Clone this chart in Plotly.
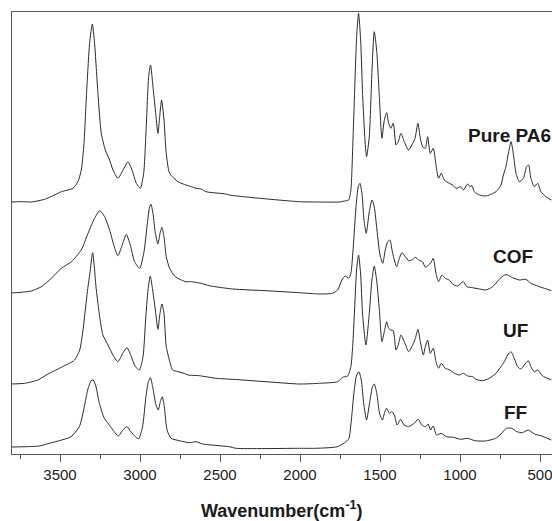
import plotly.graph_objects as go

# ---------------- data ----------------
# wavenumber (cm-1) and absorbance (arbitrary units, above each spectrum's own baseline)
pa6_wn = [3804, 3742, 3679, 3596, 3534, 3492, 3419, 3388, 3367, 3350, 3334, 3315, 3298, 3284, 3263, 3242,
          3217, 3190, 3169, 3138, 3106, 3075, 3050, 3023, 2998, 2977, 2961, 2946, 2934, 2919, 2904, 2888,
          2877, 2865, 2850, 2836, 2815, 2763, 2713, 2679, 2650, 2617, 2588, 2463, 2442, 2317, 2004, 1879,
          1754, 1723, 1696, 1682, 1671, 1659, 1646, 1634, 1621, 1609, 1594, 1584, 1567, 1550, 1536, 1521,
          1504, 1488, 1473, 1458, 1446, 1432, 1417, 1400, 1386, 1369, 1348, 1321, 1296, 1281, 1263, 1248,
          1234, 1217, 1202, 1186, 1167, 1150, 1134, 1117, 1098, 1067, 1046, 1025, 994, 979, 952, 938,
          925, 911, 879, 838, 817, 775, 744, 729, 713, 696, 681, 667, 650, 629, 604, 584,
          571, 557, 536, 515, 494, 463, 429]
pa6_abs = [0, 0.3, 0, 2.7, 7, 10.3, 13.7, 20.3, 32, 58.7, 108.7, 158.7, 178, 158.7, 108.7, 68.7,
           52, 42, 32, 23.7, 32, 40.3, 32, 18.7, 13.7, 28.7, 75.3, 125.3, 137, 115.3, 92, 68.7,
           85.3, 102, 82, 48.7, 28.7, 20.3, 17, 15.3, 13.7, 13, 10.3, 8, 7, 4.7, 0.3, 0,
           0, 1, 2, 12, 52, 108.7, 165.3, 188.7, 162, 108.7, 62, 45.3, 65.3, 132, 170.3, 152,
           105.3, 63.7, 82, 89.3, 78.7, 73.7, 78.7, 57, 60.3, 68.7, 60.3, 52, 58.7, 63.7, 78.7, 63.7,
           55.3, 53.7, 65.3, 48.7, 53.7, 37, 23.7, 28.7, 22, 18.7, 17, 13.7, 15.3, 12, 18, 15.3,
           16.3, 10.3, 7, 6, 7, 10.3, 17, 27, 35.3, 50.3, 60.3, 48.7, 28.7, 20.3, 23.7, 35.3,
           37, 23.7, 15.3, 18.7, 10.3, 5.3, 2]

cof_wn = [3804, 3742, 3679, 3617, 3554, 3492, 3429, 3367, 3325, 3284, 3252, 3221, 3190, 3158, 3138, 3111,
          3086, 3061, 3034, 3002, 2975, 2954, 2942, 2932, 2919, 2904, 2888, 2875, 2863, 2850, 2836, 2815,
          2784, 2742, 2713, 2679, 2640, 2617, 2567, 2421, 2213, 2004, 1879, 1796, 1765, 1738, 1717, 1696,
          1682, 1667, 1650, 1636, 1625, 1613, 1600, 1586, 1567, 1550, 1536, 1519, 1500, 1483, 1467, 1452,
          1438, 1421, 1396, 1379, 1363, 1342, 1321, 1300, 1279, 1259, 1234, 1217, 1196, 1182, 1167, 1150,
          1134, 1113, 1092, 1067, 1046, 1015, 979, 958, 921, 879, 838, 796, 754, 723, 702, 671,
          629, 588, 557, 515, 473, 429]
cof_abs = [0, 0.7, 2, 6.3, 14.7, 24.7, 31.3, 43, 59.7, 74.7, 82.3, 76.3, 63, 44.7, 37.3, 48,
           58.7, 48, 31.3, 24.7, 41.3, 69.7, 84.7, 89, 79.7, 59.7, 49, 59.7, 65.7, 56.3, 36.3, 24.7,
           17, 13, 11.3, 11.3, 10.3, 9.7, 7.3, 4, 2.3, 0.3, -1, -0.3, 3, 13, 17, 14.7,
           19.7, 46.3, 86.3, 106.3, 109.7, 99.7, 73, 59.7, 81.3, 93, 86.3, 63, 38, 29.7, 43, 51.3,
           53, 39.7, 26.3, 34.7, 40.3, 36.3, 32.3, 33, 35.7, 33, 31.3, 25.7, 28, 30.3, 34.7, 19.7,
           11.3, 18, 14.7, 13, 9, 7, 11.3, 6.3, 5.3, 4, 3, 6.3, 13.7, 18, 18, 15.3,
           13, 13.7, 9.7, 7, 4.7, 2.3]

uf_wn = [3804, 3721, 3638, 3575, 3492, 3409, 3377, 3356, 3342, 3325, 3313, 3296, 3273, 3252, 3232, 3200,
         3169, 3138, 3106, 3081, 3054, 3029, 3004, 2981, 2965, 2950, 2936, 2921, 2904, 2888, 2875, 2863,
         2850, 2836, 2808, 2796, 2763, 2713, 2700, 2629, 2525, 2421, 2213, 2004, 1879, 1765, 1733, 1702,
         1682, 1671, 1659, 1646, 1634, 1621, 1609, 1588, 1567, 1550, 1536, 1521, 1504, 1488, 1473, 1458,
         1446, 1432, 1417, 1400, 1386, 1369, 1348, 1321, 1296, 1279, 1263, 1248, 1229, 1217, 1202, 1186,
         1167, 1150, 1134, 1117, 1092, 1063, 1036, 1004, 979, 952, 921, 900, 859, 817, 775, 744,
         723, 702, 681, 661, 640, 619, 598, 573, 557, 536, 515, 484, 452, 429]
uf_abs = [0, 0.7, 4, 10, 16.7, 24, 34, 54, 74, 97.3, 110.7, 131.3, 94, 67.3, 49, 39,
          29, 22.3, 31.3, 36.3, 27.3, 17.3, 14, 27.3, 64, 94, 108, 94, 74, 54.7, 70.7, 80,
          70.7, 37.3, 19, 14, 12.3, 10, 9, 8.3, 5.7, 4.7, 2.3, 0, 0.7, 2.3, 6.7, 8,
          17.3, 37.3, 74, 115, 129, 110, 70, 39, 70.7, 105, 118, 104, 74, 42.3, 52.3, 62.3,
          55.7, 54, 53.3, 34, 39, 49, 42.3, 32.3, 39, 45.7, 54.7, 42.3, 29, 37.3, 44, 30.7,
          35.7, 22.3, 15.7, 20.7, 15.7, 14, 10.7, 9, 10.7, 8, 7.3, 4.7, 3.3, 5.7, 10.7, 17.3,
          22.3, 29, 32.3, 25.7, 17.3, 15, 19, 23.3, 17.3, 12.3, 14, 8, 5.7, 4]

ff_wn = [3804, 3713, 3629, 3567, 3504, 3431, 3379, 3348, 3327, 3306, 3292, 3275, 3254, 3223, 3192, 3161,
         3136, 3104, 3082, 3057, 3029, 3009, 2984, 2963, 2948, 2935, 2921, 2900, 2886, 2873, 2861, 2848,
         2831, 2806, 2754, 2692, 2650, 2609, 2442, 2400, 2004, 1899, 1767, 1712, 1694, 1679, 1661, 1646,
         1632, 1617, 1602, 1584, 1564, 1547, 1536, 1520, 1503, 1485, 1470, 1459, 1441, 1426, 1410, 1393,
         1371, 1349, 1322, 1287, 1261, 1239, 1217, 1199, 1184, 1168, 1146, 1118, 1085, 1041, 997, 952,
         908, 842, 777, 744, 710, 677, 644, 611, 574, 534, 490, 429]
ff_abs = [0, 0.3, 1, 3.7, 6.3, 10.3, 20.3, 40.3, 57, 66.3, 67, 60.3, 43.7, 28.7, 22, 15.3,
          11, 17.7, 20.3, 15.3, 10.3, 8, 20.3, 50.3, 65.3, 69.3, 60.3, 42, 37, 45.3, 50.3, 40.3,
          17, 8.7, 6.3, 4.3, 5.3, 3, 0.3, -1.3, -1.3, -1.3, 0.3, 5.3, 8.7, 27, 57, 72,
          75.3, 67, 43.7, 27, 45.3, 60.3, 63, 53.7, 33.7, 27, 35.3, 38.7, 33.7, 35.3, 32, 22,
          27.7, 22, 20.3, 23.7, 27.7, 22, 20.3, 23, 17, 21, 12, 13.7, 10.3, 9.7, 7.7, 8.7,
          6.3, 6, 8.7, 13, 18.7, 18.7, 15.3, 14.3, 17, 13, 11, 7]

names = ["Pure PA6", "COF", "UF", "FF"]
offsets = [252, 161, 70, 7]          # vertical stacking offset of each spectrum (a.u.)
label_wn = [688, 669, 653, 656]      # label positions (cm-1)
label_y = [319, 197.5, 124, 42]      # label positions (a.u.)

series = [(pa6_wn, pa6_abs), (cof_wn, cof_abs), (uf_wn, uf_abs), (ff_wn, ff_abs)]

fig = go.Figure()
for (wn, ab), name, off in zip(series, names, offsets):
    fig.add_trace(go.Scatter(
        x=wn, y=[v + off for v in ab], mode="lines", name=name,
        line=dict(color="#2a2a2a", width=1, shape="spline", smoothing=0.6),
        showlegend=False))

for name, lx, ly in zip(names, label_wn, label_y):
    fig.add_annotation(x=lx, y=ly, xref="x", yref="y", text="<b>%s</b>" % name,
                       showarrow=False, xanchor="center", yanchor="middle",
                       font=dict(family="Liberation Sans, Arial", size=19, color="#1a1a1a"))

fig.add_annotation(x=0.5, y=-0.125, xref="paper", yref="paper",
                   text="<b>Wavenumber(cm<sup>-1</sup>)</b>", showarrow=False,
                   xanchor="center", yanchor="middle",
                   font=dict(family="Liberation Sans, Arial", size=18, color="#1a1a1a"))

axis_col = "#555555"
fig.update_layout(
    width=552, height=521,
    margin=dict(l=12, r=0, t=12, b=67),
    paper_bgcolor="white", plot_bgcolor="white",
    font=dict(family="Liberation Sans, Arial", color="#1a1a1a"),
    xaxis=dict(range=[3800, 425], tick0=500, dtick=500, ticks="outside", ticklen=7,
               tickwidth=1, tickcolor=axis_col, showline=True, linecolor=axis_col,
               linewidth=1, mirror=True, showgrid=False, zeroline=False,
               ticklabeloverflow="allow",
               tickfont=dict(size=15, color="#1a1a1a"),
               minor=dict(ticks="outside", ticklen=4, tick0=250, dtick=250,
                          tickcolor=axis_col, tickwidth=1, showgrid=False)),
    yaxis=dict(range=[0, 442], showline=True, linecolor=axis_col, linewidth=1,
               showticklabels=False, ticks="", showgrid=False, zeroline=False),
)

fig.write_html("out.html", config={"displayModeBar": False},
               post_script="document.body.style.margin='0';document.body.style.overflow='hidden';")
